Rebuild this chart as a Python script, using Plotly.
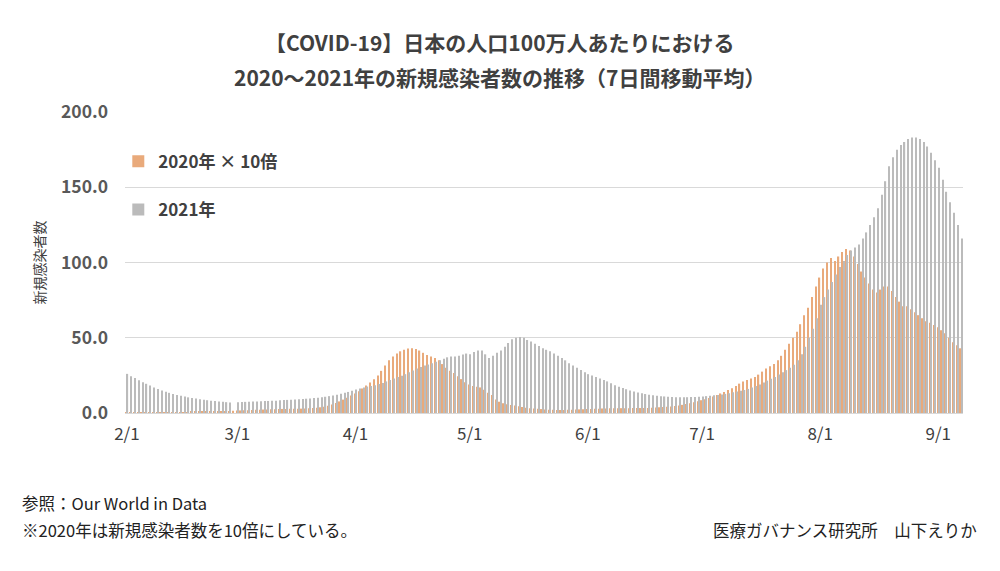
import pandas as pd
import plotly.graph_objects as go

# ---- data (7-day avg new cases per million, Japan) ----
dates = pd.date_range("2020-02-01", "2020-09-07", freq="D")

# 2021 (gray); axis uses 2020 calendar, so Feb 29 is empty
gray_feb = [26.0, 24.5, 23.2, 21.8, 20.5, 19.4, 18.3, 17.0, 16.0, 15.0, 14.2, 13.4, 12.6, 12.0, 11.4,
            10.9, 10.4, 10.0, 9.6, 9.2, 8.8, 8.5, 8.2, 7.9, 7.6, 7.4, 7.2, 7.0, None]
gray_mar = [7.2, 7.3, 7.4, 7.5, 7.6, 7.7, 7.8, 7.9, 8.0, 8.1, 8.2, 8.4, 8.6, 8.7, 8.8, 9.0, 9.2, 9.3,
            9.5, 9.7, 9.9, 10.1, 10.4, 10.8, 11.2, 11.7, 12.2, 12.8, 13.4, 14.0, 14.8]
gray_apr = [15.6, 16.3, 17.0, 17.6, 18.0, 18.5, 19.2, 20.0, 21.0, 22.0, 23.0, 24.0, 24.8, 25.8, 27.0,
            28.2, 29.5, 30.6, 31.5, 32.2, 33.0, 34.0, 35.0, 36.0, 37.0, 37.6, 37.5, 38.0, 38.8, 39.5]
gray_may = [39.0, 40.5, 41.5, 41.5, 39.0, 36.5, 38.0, 40.0, 41.5, 44.0, 46.5, 49.0, 50.0, 50.5, 50.0,
            48.5, 47.5, 46.0, 44.5, 43.0, 42.0, 41.0, 39.5, 38.0, 36.5, 35.0, 33.0, 31.5, 30.0, 28.6, 27.0]
gray_jun = [25.8, 25.0, 24.0, 23.0, 22.0, 21.0, 19.8, 18.5, 17.5, 16.6, 15.8, 15.0, 14.3, 13.7, 13.1,
            12.6, 12.2, 11.8, 11.5, 11.2, 11.0, 10.8, 10.6, 10.5, 10.5, 10.5, 10.5, 10.6, 10.7, 10.8]
gray_jul = [11.0, 11.2, 11.5, 11.8, 12.0, 12.3, 12.7, 13.2, 13.8, 14.3, 14.8, 15.3, 16.0, 17.0, 18.0,
            19.0, 20.2, 21.5, 22.8, 24.0, 25.5, 27.0, 28.5, 30.0, 32.0, 35.0, 39.0, 44.0, 50.0, 56.0, 63.0]
gray_aug = [72, 77, 82, 87, 92, 97, 101, 105, 108, 110, 112, 116, 120, 125, 130, 136, 145, 154, 164,
            170, 175, 178, 180, 182, 183, 183, 182, 180, 177, 173, 168]
gray_sep = [163, 155, 147, 140, 133, 125, 116]

# 2020 x 10 (orange)
orange_feb = [0.1, 0.1, 0.1, 0.1, 0.1, 0.1, 0.1, 0.1, 0.1, 0.1, 0.1, 0.1, 0.2, 0.3, 0.4, 0.5, 0.6, 0.7,
              0.8, 0.9, 1.0, 1.0, 1.1, 1.1, 1.2, 1.2, 1.3, 1.4, 1.5]
orange_mar = [1.6, 1.7, 1.8, 1.9, 2.0, 2.1, 2.2, 2.3, 2.4, 2.5, 2.5, 2.6, 2.7, 2.7, 2.8, 2.8, 2.8, 2.9,
              3.0, 3.1, 3.3, 3.5, 3.8, 4.2, 4.8, 5.6, 6.6, 7.7, 8.9, 10.2, 11.6]
orange_apr = [13.0, 14.5, 16.3, 18.2, 20.3, 22.5, 25.0, 28.0, 31.5, 35.0, 37.5, 39.5, 41.0, 42.0, 42.8,
              43.0, 42.6, 41.5, 40.0, 38.5, 37.5, 36.5, 35.0, 32.5, 30.0, 28.0, 26.5, 24.5, 22.5, 20.5]
orange_may = [19.0, 18.0, 17.5, 17.0, 15.5, 13.5, 12.0, 9.0, 7.5, 6.5, 5.8, 5.3, 5.0, 4.5, 4.0, 3.5, 3.2,
              3.0, 2.8, 2.6, 2.4, 2.2, 2.1, 2.0, 2.0, 2.0, 2.1, 2.2, 2.3, 2.4, 2.5]
orange_jun = [2.6, 2.7, 2.8, 2.9, 3.0, 3.0, 3.1, 3.1, 3.2, 3.2, 3.2, 3.2, 3.3, 3.3, 3.3, 3.4, 3.4, 3.5,
              3.6, 3.8, 4.0, 4.2, 4.4, 4.6, 5.0, 5.4, 5.9, 6.5, 7.1, 7.8]
orange_jul = [8.5, 9.2, 10.0, 11.0, 12.0, 13.0, 14.0, 15.2, 16.5, 18.0, 19.5, 21.0, 22.0, 23.0, 24.0,
              25.5, 27.5, 29.5, 31.0, 32.5, 35.0, 38.0, 42.0, 46.0, 50.0, 54.0, 59.0, 65.0, 70.0, 77.0, 84.0]
orange_aug = [90, 96, 100, 103, 101, 104, 107, 109, 108, 104, 99, 94, 90, 86, 82, 80, 82, 84, 84, 81,
              77, 74, 71, 71, 69, 67, 65, 63, 61, 60, 58.5]
orange_sep = [57, 55, 53, 50, 47, 45, 43]

series_2021 = gray_feb + gray_mar + gray_apr + gray_may + gray_jun + gray_jul + gray_aug + gray_sep
series_2020x10 = (orange_feb + orange_mar + orange_apr + orange_may + orange_jun + orange_jul
                  + orange_aug + orange_sep)

tick_dates = ["2020-02-01", "2020-03-01", "2020-04-01", "2020-05-01",
              "2020-06-01", "2020-07-01", "2020-08-01", "2020-09-01"]
tick_labels = ["2/1", "3/1", "4/1", "5/1", "6/1", "7/1", "8/1", "9/1"]
y_ticks = [0, 50, 100, 150, 200]

FONT = "Noto Sans CJK JP"
TXT = "#404040"

fig = go.Figure()
fig.add_trace(go.Bar(x=dates, y=series_2020x10, name="2020年 × 10倍",
                     marker=dict(color="#E9AA7B", line=dict(width=0)), legend="legend"))
fig.add_trace(go.Bar(x=dates, y=series_2021, name="2021年",
                     marker=dict(color="#BBBBBB", line=dict(width=0)), legend="legend2"))

# page body has an 8px default margin, so the figure is sized/offset to compensate
fig.update_layout(
    width=992, height=563,
    paper_bgcolor="white", plot_bgcolor="white",
    margin=dict(l=117, r=37, t=104, b=158, autoexpand=False),
    barmode="group", bargap=0.36, bargroupgap=0.0,
    font=dict(family=FONT, color=TXT),
    legend=dict(x=-0.008, y=0.835, xanchor="left", yanchor="middle", bgcolor="rgba(0,0,0,0)",
                font=dict(family=FONT, size=17, color=TXT, weight="bold"), itemwidth=30),
    legend2=dict(x=-0.008, y=0.675, xanchor="left", yanchor="middle", bgcolor="rgba(0,0,0,0)",
                 font=dict(family=FONT, size=17, color=TXT, weight="bold"), itemwidth=30),
    showlegend=True,
)

fig.update_xaxes(
    type="date", automargin=False,
    range=[pd.Timestamp("2020-02-01") - pd.Timedelta(hours=12),
           pd.Timestamp("2020-09-07") + pd.Timedelta(hours=12)],
    tickmode="array", tickvals=tick_dates, ticktext=tick_labels,
    tickfont=dict(family=FONT, size=17, color=TXT),
    showgrid=False, showline=True, linecolor="#D9D9D9", linewidth=1,
    ticks="", ticklabelstandoff=6,
)
fig.update_yaxes(
    range=[0, 200], tickmode="array", tickvals=y_ticks, automargin=False,
    tickformat=".1f",
    tickfont=dict(family=FONT, size=17.5, color="#595959", weight="bold"),
    showgrid=True, gridcolor="#D9D9D9", gridwidth=1, zeroline=False,
    ticks="", ticklabelstandoff=16,
    title=dict(text="新規感染者数", font=dict(family=FONT, size=14, color=TXT), standoff=12),
)

# two-line title
fig.add_annotation(text="【COVID-19】日本の人口100万人あたりにおける", xref="paper", yref="paper",
                   x=0.4475, y=1.2326, xanchor="center", yanchor="middle", showarrow=False,
                   font=dict(family=FONT, size=21, color=TXT, weight="bold"))
fig.add_annotation(text="2020～2021年の新規感染者数の推移（7日間移動平均）", xref="paper", yref="paper",
                   x=0.4475, y=1.1163, xanchor="center", yanchor="middle", showarrow=False,
                   font=dict(family=FONT, size=21, color=TXT, weight="bold"))

fig.add_annotation(text="参照：Our World in Data", xref="paper", yref="paper",
                   x=-0.125, y=-0.299, xanchor="left", yanchor="middle", showarrow=False,
                   font=dict(family=FONT, size=16.5, color="#222222"))
fig.add_annotation(text="※2020年は新規感染者数を10倍にしている。", xref="paper", yref="paper",
                   x=-0.125, y=-0.389, xanchor="left", yanchor="middle", showarrow=False,
                   font=dict(family=FONT, size=16.5, color="#222222"))
fig.add_annotation(text="医療ガバナンス研究所　山下えりか", xref="paper", yref="paper",
                   x=1.019, y=-0.389, xanchor="right", yanchor="middle", showarrow=False,
                   font=dict(family=FONT, size=16.5, color="#222222"))

fig.write_html("out.html")
